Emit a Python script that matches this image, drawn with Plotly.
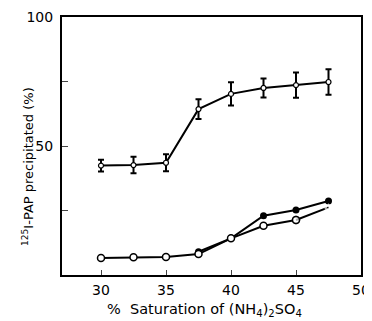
import plotly.graph_objects as go

# Upper series (with error bars)
x_upper = [30, 32.5, 35, 37.5, 40, 42.5, 45, 47.5]
y_upper = [42.4, 42.6, 43.5, 64.3, 70.2, 72.5, 73.6, 74.8]
err_upper = [2.3, 3.2, 3.3, 3.8, 4.5, 3.7, 4.9, 4.9]

# Lower open series
x_open = [30, 32.5, 35, 37.5, 40, 42.5, 45, 47.5]
y_open = [6.6, 6.9, 7.0, 8.1, 14.2, 19.1, 21.3, 26.2]

# Lower filled series
x_filled = [37.5, 40, 42.5, 45, 47.5]
y_filled = [9.0, 14.2, 23.0, 25.2, 28.7]

x_ticks = [30, 35, 40, 45, 50]
y_ticks = [25, 50, 75, 100]
y_ticklabels = ["", "50", "", "100"]

x_title = "%  Saturation of (NH<sub>4</sub>)<sub>2</sub>SO<sub>4</sub>"
y_title = "<sup>125</sup>I-PAP precipitated (%)"

FONT = "DejaVu Sans"

fig = go.Figure()
fig.add_trace(go.Scatter(
    x=x_filled, y=y_filled, mode="lines+markers",
    line=dict(color="black", width=2),
    marker=dict(symbol="circle", size=7, color="black"),
    showlegend=False))
fig.add_trace(go.Scatter(
    x=x_open[:-1], y=y_open[:-1], mode="lines+markers",
    line=dict(color="black", width=2),
    marker=dict(symbol="circle", size=7, color="white", line=dict(color="black", width=1.5)),
    showlegend=False))
fig.add_trace(go.Scatter(
    x=x_open[-2:], y=y_open[-2:], mode="lines+markers",
    line=dict(color="black", width=2),
    marker=dict(symbol=["circle", "triangle-up-open"], size=[7, 6], color="white",
                line=dict(color="black", width=1.5)),
    showlegend=False))
fig.add_trace(go.Scatter(
    x=x_upper, y=y_upper, mode="lines+markers",
    line=dict(color="black", width=2),
    marker=dict(symbol="circle", size=5, color="white", line=dict(color="black", width=1.2)),
    error_y=dict(type="data", array=err_upper, visible=True, color="black", thickness=2, width=3),
    showlegend=False))

fig.update_layout(
    width=364, height=313,
    margin=dict(l=54, r=11, t=9, b=46, autoexpand=False),
    paper_bgcolor="white", plot_bgcolor="white",
    font=dict(family=FONT, color="black", size=13),
    xaxis=dict(range=[27, 50], tickvals=x_ticks, ticks="inside", ticklen=5, tickwidth=1,
               showline=True, linecolor="black", linewidth=2, mirror=True, showgrid=False,
               zeroline=False, tickfont=dict(size=14), automargin=False,
               ticklabelstandoff=1, ticklabeloverflow="allow"),
    yaxis=dict(range=[0, 100], tickvals=y_ticks, ticktext=y_ticklabels, ticks="inside",
               ticklen=6, tickwidth=1, showline=True, linecolor="black", linewidth=2,
               mirror=True, showgrid=False, zeroline=False, tickfont=dict(size=14),
               automargin=False, ticklabelstandoff=4),
    annotations=[
        dict(text=x_title, xref="paper", yref="paper", x=0.475, y=-0.1357,
             xanchor="center", yanchor="middle", showarrow=False, font=dict(size=14.5)),
        dict(text=y_title, xref="paper", yref="paper", x=-0.1137, y=0.4186,
             xanchor="center", yanchor="middle", textangle=-90, showarrow=False,
             font=dict(size=13)),
    ],
)

fig.write_html("out.html")
